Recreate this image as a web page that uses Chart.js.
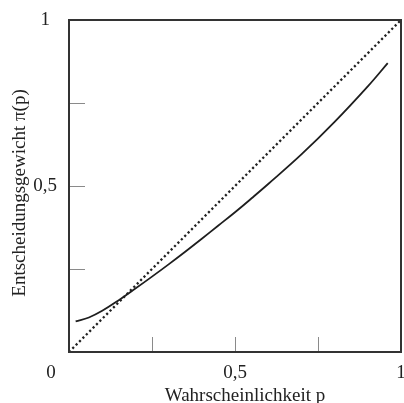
<!DOCTYPE html>
<html>
<head>
<meta charset="utf-8">
<script src="https://cdn.jsdelivr.net/npm/chart.js@4"></script>
<style>
    html, body { margin: 0; padding: 0; background: #fff; overflow: hidden; }
    canvas { display: block; }
</style>
</head>
<body>
<canvas id="weightChart" width="404" height="403"></canvas>
<script>
// Wahrscheinlichkeit p and Entscheidungsgewicht pi(p)
const probValues = [0.02, 0.06, 0.10, 0.15, 0.20, 0.25, 0.30, 0.35, 0.40, 0.45, 0.50, 0.55, 0.60, 0.70, 0.80, 0.90, 0.96];
const weightValues = [0.092, 0.104, 0.124, 0.156, 0.191, 0.227, 0.264, 0.302, 0.341, 0.381, 0.421, 0.463, 0.506, 0.595, 0.693, 0.800, 0.870];

// dotted reference line pi(p) = p
const diagonalX = [0, 1];
const diagonalY = [0, 1];

const tickValues = [0, 0.25, 0.5, 0.75, 1];
const tickLabels = ['', '', '0,5', '', '1'];
const cornerLabel = '0';
const xTitle = 'Wahrscheinlichkeit p';
const yTitle = 'Entscheidungsgewicht \u03c0(p)';

const fontFamily = '"Liberation Serif", "Times New Roman", serif';
const textColor = '#222';

function labelFor(value) {
    const i = tickValues.findIndex(v => Math.abs(v - value) < 1e-6);
    return i >= 0 ? tickLabels[i] : '';
}

// frame, inward tick marks, corner label and axis titles
const framePlugin = {
    id: 'frame',
    afterDraw(chart) {
        const { ctx, chartArea, scales } = chart;
        const x = scales.x, y = scales.y;
        ctx.save();

        // short ticks pointing into the plot
        ctx.strokeStyle = '#8a8a8a';
        ctx.lineWidth = 1;
        ctx.beginPath();
        tickValues.slice(1, -1).forEach(v => {
            const px = Math.round(x.getPixelForValue(v)) + 0.5;
            ctx.moveTo(px, chartArea.bottom);
            ctx.lineTo(px, chartArea.bottom - 15);
            const py = Math.round(y.getPixelForValue(v)) + 0.5;
            ctx.moveTo(chartArea.left, py);
            ctx.lineTo(chartArea.left + 16, py);
        });
        ctx.stroke();

        // box around the plot
        ctx.strokeStyle = '#333';
        ctx.lineWidth = 2;
        ctx.strokeRect(chartArea.left, chartArea.top, chartArea.right - chartArea.left, chartArea.bottom - chartArea.top);

        ctx.fillStyle = textColor;
        ctx.font = '19px ' + fontFamily;
        ctx.textAlign = 'center';
        ctx.textBaseline = 'middle';
        ctx.fillText(cornerLabel, x.getPixelForValue(0) - 18, y.getPixelForValue(0) + 21);

        ctx.textBaseline = 'alphabetic';
        ctx.fillText(xTitle, x.getPixelForValue(0.5) + 10, chartArea.bottom + 49);

        ctx.translate(chartArea.left - 49, y.getPixelForValue(0.5) + 7);
        ctx.rotate(-Math.PI / 2);
        ctx.textBaseline = 'middle';
        ctx.fillText(yTitle, 0, 0);
        ctx.restore();
    }
};

const ctx = document.getElementById('weightChart').getContext('2d');

new Chart(ctx, {
    type: 'line',
    data: {
        datasets: [{
            label: 'pi(p)',
            data: probValues.map((p, i) => ({ x: p, y: weightValues[i] })),
            borderColor: '#1e1e1e',
            borderWidth: 1.8,
            pointRadius: 0,
            fill: false,
            tension: 0.4
        }, {
            label: 'p',
            data: diagonalX.map((p, i) => ({ x: p, y: diagonalY[i] })),
            borderColor: '#222',
            borderWidth: 2.3,
            borderDash: [2.2, 2.6],
            pointRadius: 0,
            fill: false
        }]
    },
    options: {
        responsive: false,
        animation: false,
        layout: { padding: { top: 20, right: 3, bottom: 0, left: 0 } },
        plugins: {
            legend: { display: false },
            tooltip: { enabled: false }
        },
        scales: {
            x: {
                type: 'linear',
                min: 0,
                max: 1,
                afterBuildTicks: scale => { scale.ticks = tickValues.map(v => ({ value: v })); },
                afterFit: scale => { scale.height = 51; scale.paddingLeft = 0; scale.paddingRight = 0; },
                grid: { display: false, drawTicks: false },
                border: { display: false },
                ticks: {
                    autoSkip: false,
                    maxRotation: 0,
                    padding: 10,
                    color: textColor,
                    font: { family: fontFamily, size: 19 },
                    callback: labelFor
                }
            },
            y: {
                type: 'linear',
                min: 0,
                max: 1,
                afterBuildTicks: scale => { scale.ticks = tickValues.map(v => ({ value: v })); },
                afterFit: scale => { scale.width = 69; scale.paddingTop = 0; scale.paddingBottom = 0; },
                grid: { display: false, drawTicks: false },
                border: { display: false },
                ticks: {
                    autoSkip: false,
                    padding: 12,
                    crossAlign: 'center',
                    color: textColor,
                    font: { family: fontFamily, size: 19 },
                    callback: labelFor
                }
            }
        }
    },
    plugins: [framePlugin]
});
</script>
</body>
</html>
